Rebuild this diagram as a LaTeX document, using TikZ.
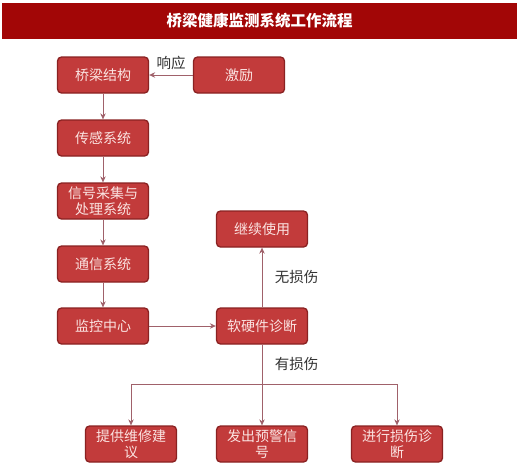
\documentclass[tikz,border=0pt]{standalone}
\usepackage{fontspec}
\newfontfamily\cjk{Noto Sans CJK SC}
\usetikzlibrary{arrows.meta,positioning}
\definecolor{titlered}{HTML}{A20606}
\definecolor{boxfill}{HTML}{C23B3B}
\definecolor{boxline}{HTML}{8A2222}
\definecolor{boxtext}{HTML}{FBE4E2}
\definecolor{conn}{HTML}{A0616A}
\tikzset{
  box/.style={draw=boxline, line width=1.3pt, fill=boxfill, rounded corners=4pt,
    minimum width=91pt, minimum height=36pt, inner sep=1pt, align=center,
    text=boxtext, font=\cjk\fontsize{14}{15.5}\selectfont},
  link/.style={draw=conn, line width=0.9pt},
  conn/.style={link, -{Stealth[length=6pt,width=5.5pt]}},
  lbl/.style={font=\cjk\fontsize{14.5}{16}\selectfont, text=black!80}
}
\begin{document}
\begin{tikzpicture}[x=1pt,y=-1pt]
\useasboundingbox (0,0) rectangle (520,475);
\fill[white] (0,0) rectangle (520,475);
\node[fill=titlered, minimum width=515pt, minimum height=36pt, inner sep=0pt,
  text=white, font=\cjk\bfseries\fontsize{15.5}{17}\selectfont] (title) at (259.5,21) {桥梁健康监测系统工作流程};
\node[box] (bridge) at (103,75) {桥梁结构};
\node[box] (excite) at (239,75) {激励};
\node[box] (sensor) at (103,138) {传感系统};
\node[box] (signal) at (103,201) {信号采集与\\处理系统};
\node[box] (comm) at (103,264) {通信系统};
\node[box] (monitor) at (103,326) {监控中心};
\node[box] (keep) at (262,229) {继续使用};
\node[box] (diag) at (262,326) {软硬件诊断};
\node[box] (repair) at (131,444) {提供维修建\\议};
\node[box] (warn) at (262,444) {发出预警信\\号};
\node[box] (damage) at (397,444) {进行损伤诊\\断};
\coordinate (junc) at (262,384);
\draw[conn] (excite) -- node[lbl, above=1pt] {响应} (bridge);
\draw[conn] (bridge) -- (sensor);
\draw[conn] (sensor) -- (signal);
\draw[conn] (signal) -- (comm);
\draw[conn] (comm) -- (monitor);
\draw[conn] (monitor) -- (diag);
\draw[conn] (diag) -- node[lbl, right=9pt, pos=0.5] {无损伤} (keep);
\draw[link] (diag) -- node[lbl, right=9pt, pos=0.5] {有损伤} (junc);
\draw[conn] (junc) -- (warn);
\draw[conn] (junc) -| (repair);
\draw[conn] (junc) -| (damage);
\end{tikzpicture}
\end{document}
